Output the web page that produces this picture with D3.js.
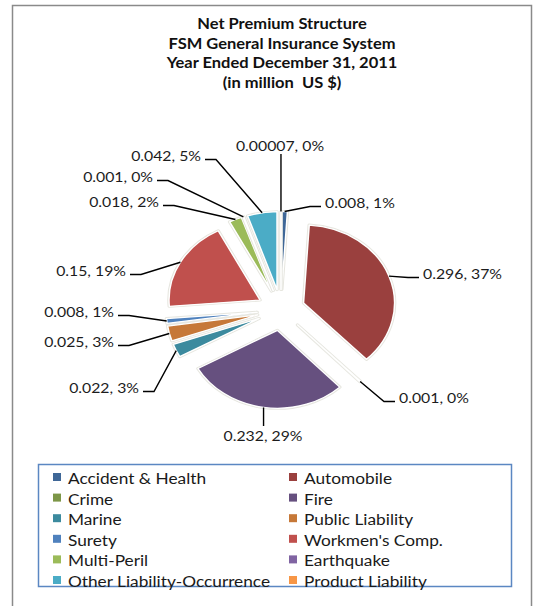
<!DOCTYPE html>
<html lang="en">
<head>
    <meta charset="UTF-8">
    <title>Net Premium Structure</title>
    <script src="https://d3js.org/d3.v7.min.js"></script>
</head>
<body>
    <div id="container"></div>
</body>

<style>
body {
    margin: 0 0;
    background: #fff;
}
svg text {
    font-family: Lato, "Open Sans", "Liberation Sans", sans-serif;
}
</style>

<script>
    const categories = ["Accident & Health", "Automobile", "Crime", "Fire", "Marine", "Public Liability",
        "Surety", "Workmen's Comp.", "Multi-Peril", "Earthquake", "Other Liability-Occurrence", "Product Liability"]
    const premiums = [0.008, 0.296, 0.001, 0.232, 0.022, 0.025, 0.008, 0.15, 0.018, 0.001, 0.042, 0.00007]
    const colors = ["#3f6797", "#9a403e", "#7c9647", "#66507f", "#3c8a9e", "#c67838",
        "#4f81bd", "#c0504d", "#9bbb59", "#8064a2", "#4bacc6", "#f79646"]
    const titleLines = ["Net Premium Structure", "FSM General Insurance System",
        "Year Ended December 31, 2011", "(in million  US $)"]

    // where the data labels were dragged to: [x, baseline, anchor]
    const labelPlace = [
        [325, 208, "start"],
        [423, 279, "start"],
        [399, 403, "start"],
        [263, 441, "middle"],
        [139, 393, "end"],
        [114, 347, "end"],
        [114, 317, "end"],
        [126, 276, "end"],
        [159, 207, "end"],
        [153, 182, "end"],
        [201, 161, "end"],
        [280, 151, "middle"]
    ]

    const width = 536, height = 606
    const cx = 281, cy = 310
    const rx = 91, ry = 78
    const explode = 24

    const svg = d3.select('#container')
        .append('svg')
        .attr('width', width)
        .attr('height', height)

    // chart area
    svg.append('rect')
        .attr('x', 12.5).attr('y', 5.5)
        .attr('width', 519).attr('height', 640)
        .attr('fill', '#fff')
        .attr('stroke', '#8a8a8a')
        .attr('stroke-width', 1.5)

    // stretched text helper
    function addText(g, x, y, str, sx) {
        return g.append('text')
            .attr('transform', 'translate(' + x + ',' + y + ') scale(' + sx + ',1)')
            .text(str)
    }

    // 标题
    const title = svg.append('g')
        .attr('font-weight', 'bold')
        .attr('font-size', 15)
        .attr('fill', '#111')
        .attr('text-anchor', 'middle')
    titleLines.forEach(function (t, i) {
        addText(title, 282, 29 + i * 19.7, t, 1.1).style('white-space', 'pre')
    })

    const total = d3.sum(premiums)
    const pie = d3.pie().sort(null).value(d => d)
    const arcs = pie(premiums)
    const arc = d3.arc().innerRadius(0).outerRadius(rx)

    function midAngle(d) {
        return (d.startAngle + d.endAngle) / 2
    }

    const pieG = svg.append('g')
        .attr('transform', 'translate(' + cx + ',' + cy + ') scale(1,' + (ry / rx) + ')')

    const slices = pieG.selectAll('g')
        .data(arcs)
        .enter()
        .append('g')
        .attr('transform', function (d) {
            const m = midAngle(d)
            return 'translate(' + (explode * Math.sin(m)) + ',' + (-explode * Math.cos(m)) + ')'
        })

    // soft halo under each slice
    slices.append('path')
        .attr('d', arc)
        .attr('fill', 'none')
        .attr('stroke', '#e6e6df')
        .attr('stroke-width', 3.5)
        .attr('stroke-linejoin', 'round')

    slices.append('path')
        .attr('d', arc)
        .attr('fill', (d, i) => colors[i])
        .attr('stroke', '#fff')
        .attr('stroke-width', 1.5)
        .attr('stroke-linejoin', 'round')

    // 数据标签和引导线
    function edgePoint(d) {
        const m = midAngle(d)
        const r = rx + explode
        return [cx + r * Math.sin(m), cy - r * Math.cos(m) * ry / rx]
    }

    const lineGen = d3.line()
    const leaders = svg.append('g')
        .attr('fill', 'none')
        .attr('stroke', '#000')
        .attr('stroke-width', 1.4)

    const labels = svg.append('g')
        .attr('font-size', 14)
        .attr('fill', '#1c1c1c')

    arcs.forEach(function (d, i) {
        const p = edgePoint(d)
        const [tx, by, anchor] = labelPlace[i]
        let pts
        if (anchor === 'start') {
            pts = [p, [tx - 15, by - 1.5], [tx - 4, by - 1.5]]
        } else if (anchor === 'end') {
            pts = [p, [tx + 15, by - 1.5], [tx + 4, by - 1.5]]
        } else if (by < p[1]) {
            pts = [p, [p[0], by + 3]]
        } else {
            pts = [p, [p[0], by - 15]]
        }
        leaders.append('path').attr('d', lineGen(pts))

        const pct = Math.round(premiums[i] / total * 100)
        addText(labels, tx, by, String(premiums[i]) + ', ' + pct + '%', 1.13)
            .attr('text-anchor', anchor)
    })

    // 图例
    const legend = svg.append('g')
    legend.append('rect')
        .attr('x', 38.5).attr('y', 464.5)
        .attr('width', 473).attr('height', 122)
        .attr('fill', 'none')
        .attr('stroke', '#5b87c2')
        .attr('stroke-width', 1.5)

    const legendX = [53, 289]
    const items = legend.selectAll('.item')
        .data(categories)
        .enter()
        .append('g')
        .attr('class', 'item')
        .attr('transform', function (d, i) {
            return 'translate(' + legendX[i % 2] + ',' + (484 + Math.floor(i / 2) * 20.6) + ')'
        })

    items.append('rect')
        .attr('x', 0).attr('y', -11)
        .attr('width', 8).attr('height', 8)
        .attr('fill', (d, i) => colors[i])

    items.each(function (d) {
        addText(d3.select(this), 15, 0, d, 1.08)
            .attr('font-size', 16)
            .attr('fill', '#1a1a1a')
    })
</script>
</html>
